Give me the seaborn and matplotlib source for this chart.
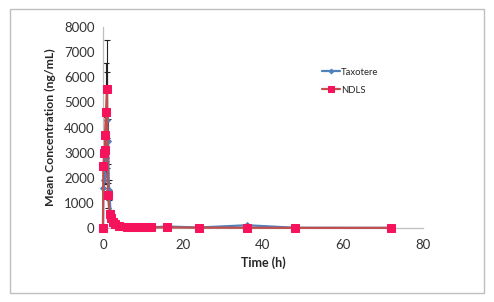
import pandas as pd
import matplotlib
matplotlib.use("Agg")
import matplotlib.pyplot as plt
import seaborn as sns
from matplotlib.patches import Rectangle

# --- data ---
time_tax = [0, 0.08, 0.25, 0.5, 0.75, 1.0, 1.25, 1.5, 2, 3, 4, 6, 8, 10, 12, 16, 24, 36, 48, 72]
conc_tax = [0, 1600, 1900, 2100, 2800, 4300, 3450, 1500, 450, 180, 90, 55, 40, 30, 25, 60, 20, 110, 10, 5]
sd_tax = [0, 300, 300, 350, 600, 1900, 900, 400, 100, 40, 20, 10, 8, 6, 5, 10, 5, 20, 3, 2]

time_ndls = [0, 0.08, 0.33, 0.58, 0.5, 0.75, 1.0, 1.25, 1.67, 2, 2.5, 3, 4, 6, 8, 10, 12, 16, 24, 36, 48, 72]
conc_ndls = [0, 2450, 3000, 3100, 3700, 4600, 5550, 1300, 560, 380, 250, 150, 90, 50, 40, 30, 30, 25, 15, 10, 5, 5]
sd_ndls = [0, 400, 500, 500, 700, 1950, 1950, 500, 150, 80, 50, 30, 20, 10, 8, 6, 6, 5, 3, 2, 1, 1]

BLUE = "#4F81BD"
RED = "#C0504D"
PINK = "#F5135C"
GRAY = "#BFBFBF"

sns.set_style("white")
plt.rcParams['font.family'] = ['Lato', 'DejaVu Sans']

fig = plt.figure(figsize=(4.94, 3.02), dpi=100)
ax = fig.add_axes([0.2085, 0.245, 0.6475, 0.6656])

df_tax = pd.DataFrame({"t": time_tax, "c": conc_tax})
df_ndls = pd.DataFrame({"t": time_ndls, "c": conc_ndls})

ax.errorbar(time_tax, conc_tax, yerr=sd_tax, fmt='none', ecolor='#222222',
            elinewidth=0.8, capsize=2, capthick=0.8, zorder=2)
ax.errorbar(time_ndls, conc_ndls, yerr=sd_ndls, fmt='none', ecolor='#222222',
            elinewidth=0.8, capsize=2, capthick=0.8, zorder=2)

sns.lineplot(data=df_tax, x="t", y="c", ax=ax, sort=False, estimator=None,
             color=BLUE, linewidth=1.6, marker='D', markersize=3,
             markerfacecolor=BLUE, markeredgecolor=BLUE, label="Taxotere",
             zorder=3, clip_on=False)
sns.lineplot(data=df_ndls, x="t", y="c", ax=ax, sort=False, estimator=None,
             color=RED, linewidth=1.6, marker='s', markersize=6,
             markerfacecolor=PINK, markeredgecolor=PINK, label="NDLS",
             zorder=4, clip_on=False)

ax.set_xlim(0, 80)
ax.set_ylim(0, 8000)
ax.set_xticks([0, 20, 40, 60, 80])
ax.set_yticks(range(0, 8001, 1000))
ax.set_xlabel("Time (h)", fontsize=9, fontweight='bold', labelpad=4)
ax.set_ylabel("Mean Concentration (ng/mL)", fontsize=8.8, fontweight='bold', labelpad=6)
ax.tick_params(axis='both', labelsize=9.5, colors='#333333', length=3, width=0.8,
               direction='out', color=GRAY, pad=3)
ax.tick_params(axis='x', pad=5)

for side in ['top', 'right']:
    ax.spines[side].set_visible(False)
for side in ['left', 'bottom']:
    ax.spines[side].set_color(GRAY)
    ax.spines[side].set_linewidth(0.9)

leg = ax.legend(loc='upper left', bbox_to_anchor=(0.665, 0.83), frameon=False,
                fontsize=6.8, handlelength=1.9, labelspacing=0.95, borderpad=0.2,
                handletextpad=0.1, markerscale=0.8)

# outer chart frame
fig.patches.append(Rectangle((10 / 494, 9 / 302), 474 / 494, 284 / 302,
                             transform=fig.transFigure, fill=False,
                             edgecolor=GRAY, linewidth=1.0))

fig.savefig("out.png", dpi=100)
